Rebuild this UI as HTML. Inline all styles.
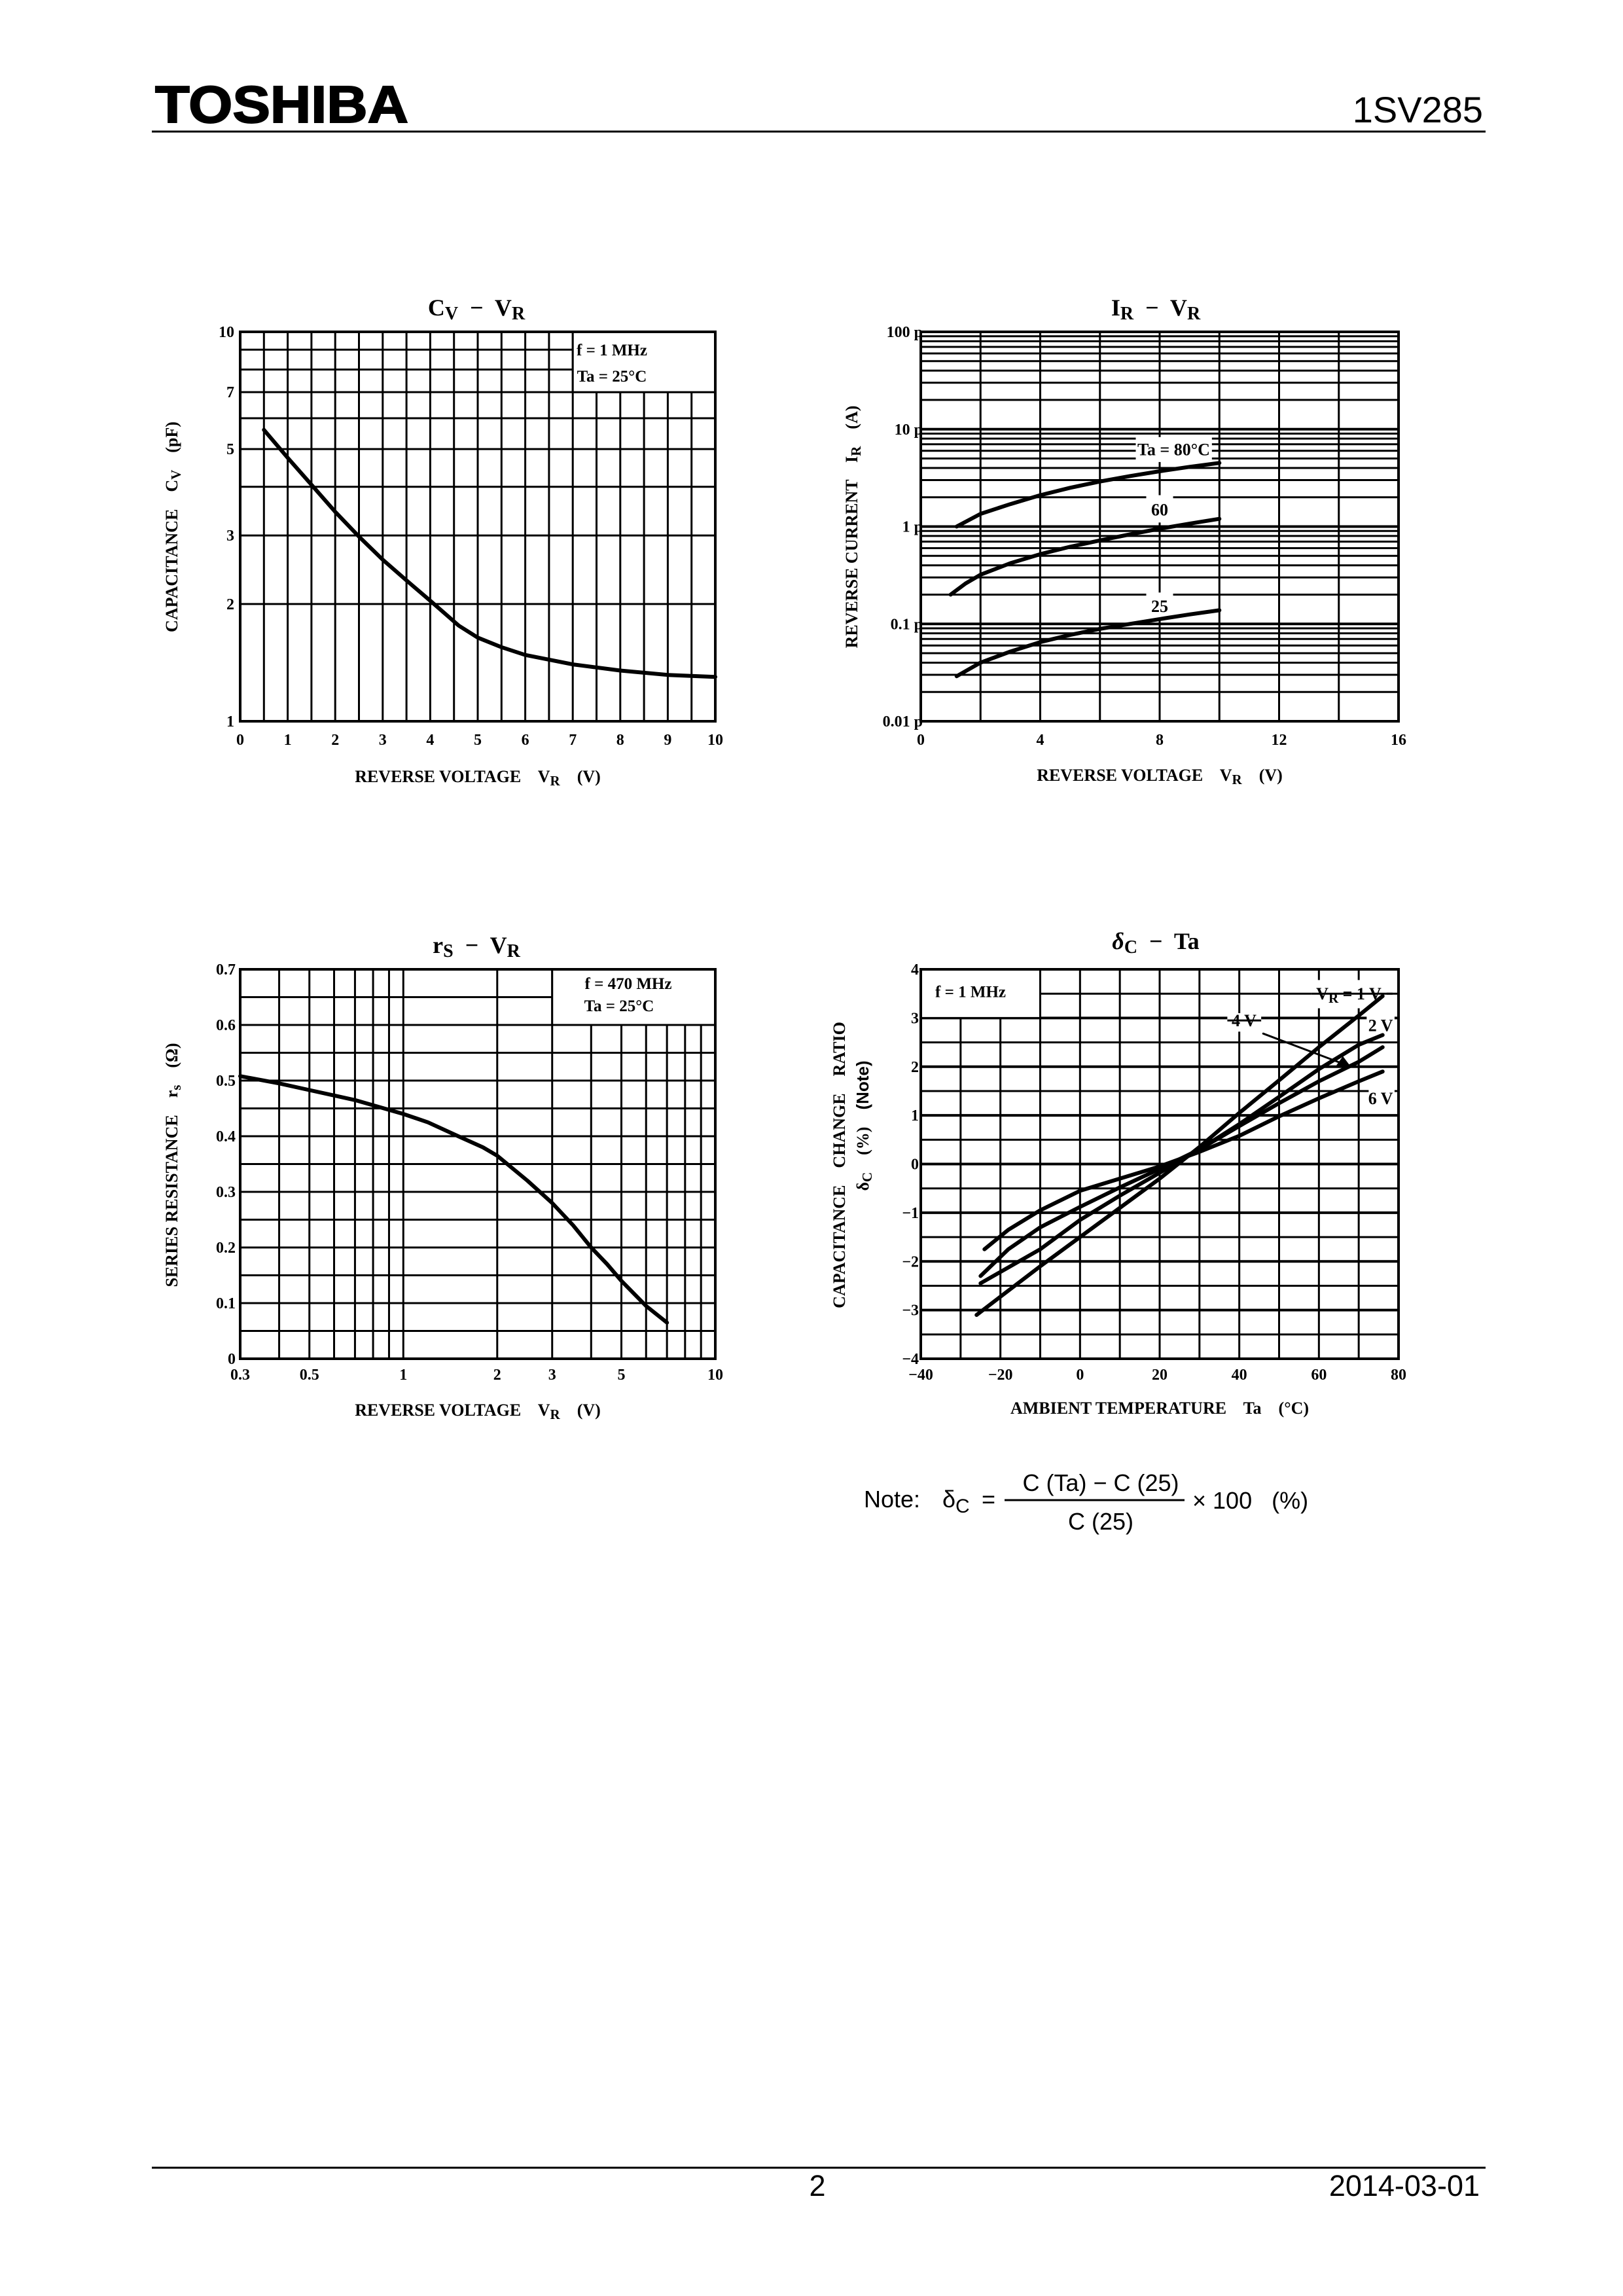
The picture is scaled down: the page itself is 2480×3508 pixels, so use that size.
<!DOCTYPE html>
<html><head><meta charset="utf-8"><style>
html,body{margin:0;padding:0;background:#fff;overflow:hidden;}
svg{display:block;}
text{white-space:pre;}
.s{font-family:"Liberation Serif",serif;font-weight:bold;fill:#000;}
.a{font-family:"Liberation Sans",sans-serif;fill:#000;}
</style></head><body>
<svg id="g" width="2480" height="3508" viewBox="0 0 2480 3508" xmlns="http://www.w3.org/2000/svg" xml:space="preserve">
<rect width="2480" height="3508" fill="#fff"/>
<text x="237" y="187" class="a" font-size="80" font-weight="bold" stroke="#000" stroke-width="2" textLength="387" lengthAdjust="spacingAndGlyphs">TOSHIBA</text>
<text x="2266" y="187" class="a" font-size="56" text-anchor="end">1SV285</text>
<line x1="232" y1="201" x2="2270" y2="201" stroke="#000" stroke-width="3"/>
<line x1="232" y1="3312" x2="2270" y2="3312" stroke="#000" stroke-width="3"/>
<text x="1249" y="3355" class="a" font-size="45" text-anchor="middle">2</text>
<text x="2261" y="3355" class="a" font-size="45" text-anchor="end">2014-03-01</text>
<g id="grid" stroke="#000" stroke-width="3" fill="none"></g>
<g id="over"></g>
<g id="txt">
<text x="728" y="482" class="s" font-size="36" text-anchor="middle">C<tspan font-size="28" dy="6">V</tspan><tspan dy="-6">  −  V</tspan><tspan font-size="28" dy="6">R</tspan></text>
<text x="730" y="1195" class="s" font-size="26" text-anchor="middle">REVERSE VOLTAGE    V<tspan font-size="21" dy="5">R</tspan><tspan dy="-5">    (V)</tspan></text>
<text transform="translate(271,805) rotate(-90)" class="s" font-size="26" text-anchor="middle">CAPACITANCE    C<tspan font-size="21" dy="5">V</tspan><tspan dy="-5">    (pF)</tspan></text>
<text x="935" y="543" class="s" font-size="25" text-anchor="middle">f = 1 MHz</text>
<text x="935" y="583" class="s" font-size="25" text-anchor="middle">Ta = 25°C</text>
<text x="1766" y="482" class="s" font-size="36" text-anchor="middle">I<tspan font-size="28" dy="6">R</tspan><tspan dy="-6">  −  V</tspan><tspan font-size="28" dy="6">R</tspan></text>
<text x="1772" y="1193" class="s" font-size="26" text-anchor="middle">REVERSE VOLTAGE    V<tspan font-size="21" dy="5">R</tspan><tspan dy="-5">    (V)</tspan></text>
<text transform="translate(1310,805) rotate(-90)" class="s" font-size="26" text-anchor="middle">REVERSE CURRENT    I<tspan font-size="21" dy="5">R</tspan><tspan dy="-5">    (A)</tspan></text>
<text x="728" y="1456" class="s" font-size="36" text-anchor="middle">r<tspan font-size="28" dy="6">S</tspan><tspan dy="-6">  −  V</tspan><tspan font-size="28" dy="6">R</tspan></text>
<text x="730" y="2163" class="s" font-size="26" text-anchor="middle">REVERSE VOLTAGE    V<tspan font-size="21" dy="5">R</tspan><tspan dy="-5">    (V)</tspan></text>
<text transform="translate(271,1780) rotate(-90)" class="s" font-size="26" text-anchor="middle">SERIES RESISTANCE    r<tspan font-size="21" dy="5">s</tspan><tspan dy="-5">    (Ω)</tspan></text>
<text x="960" y="1511" class="s" font-size="25" text-anchor="middle">f = 470 MHz</text>
<text x="946" y="1545" class="s" font-size="25" text-anchor="middle">Ta = 25°C</text>
<text x="1766" y="1450" class="s" font-size="36" text-anchor="middle"><tspan font-style="italic">δ</tspan><tspan font-size="28" dy="6">C</tspan><tspan dy="-6">  −  Ta</tspan></text>
<text x="1772" y="2160" class="s" font-size="26" text-anchor="middle">AMBIENT TEMPERATURE    Ta    (°C)</text>
<text transform="translate(1291,1780) rotate(-90)" class="s" font-size="26" text-anchor="middle">CAPACITANCE    CHANGE    RATIO</text>
<text transform="translate(1327,1720) rotate(-90)" class="s" font-size="26" text-anchor="middle">δ<tspan font-size="21" dy="5">C</tspan><tspan dy="-5">    (%)    </tspan><tspan class="a">(Note)</tspan></text>
<text x="1320" y="2303" class="a" font-size="36">Note:</text>
<text x="1440" y="2303" class="a" font-size="36">δ<tspan font-size="30" dy="8">C</tspan></text>
<text x="1500" y="2303" class="a" font-size="36">=</text>
<text x="1682" y="2278" class="a" font-size="36" text-anchor="middle">C (Ta) − C (25)</text>
<line x1="1535" y1="2292" x2="1810" y2="2292" stroke="#000" stroke-width="3"/>
<text x="1682" y="2337" class="a" font-size="36" text-anchor="middle">C (25)</text>
<text x="1822" y="2305" class="a" font-size="36">× 100   (%)</text>
</g>
</svg>
<script>
var NS="http://www.w3.org/2000/svg",G=document.getElementById('grid'),O=document.getElementById('over'),T=document.getElementById('txt');
function el(p,n,a,t){var e=document.createElementNS(NS,n);for(var k in a)e.setAttribute(k,a[k]);if(t!==undefined)e.textContent=t;p.appendChild(e);return e;}
function L(p,x1,y1,x2,y2,w){el(p,'line',{x1:x1,y1:y1,x2:x2,y2:y2,stroke:'#000','stroke-width':w||3});}
function tx(x,y,s,anc,fs){el(T,'text',{x:x,y:y,'class':'s','font-size':fs||24,'text-anchor':anc||'middle'},s);}
function curve(pts,fx,fy,w){var d='';pts.forEach(function(p,i){d+=(i?'L':'M')+fx(p[0]).toFixed(1)+' '+fy(p[1]).toFixed(1);});el(O,'path',{d:d,fill:'none',stroke:'#000','stroke-width':w||6,'stroke-linejoin':'round','stroke-linecap':'round'});}
function wbox(x1,y1,x2,y2,stroke){el(O,'rect',{x:Math.min(x1,x2),y:Math.min(y1,y2),width:Math.abs(x2-x1),height:Math.abs(y2-y1),fill:'#fff',stroke:stroke?'#000':'none','stroke-width':3});}
function frame(x0,y0,x1,y1){el(O,'rect',{x:x0,y:y0,width:x1-x0,height:y1-y0,fill:'none',stroke:'#000','stroke-width':4});}
var lg=Math.log10;
(function(){var x0=367,x1=1093,y0=507,y1=1102;
var fx=function(v){return x0+(x1-x0)*v/10},fy=function(c){return y1-(y1-y0)*lg(c)};
for(var v=0.5;v<10;v+=0.5)L(G,fx(v),y0,fx(v),y1);
for(var c=2;c<10;c++)L(G,x0,fy(c),x1,fy(c));
wbox(fx(7),y0,x1,fy(7),true);
curve([[0.5,5.6],[1,4.75],[1.5,4.05],[2,3.45],[2.5,2.98],[3,2.6],[3.5,2.3],[4,2.04],[4.6,1.76],[5,1.64],[5.5,1.55],[6,1.48],[7,1.4],[8,1.35],[9,1.315],[10,1.3]],fx,fy);
frame(x0,y0,x1,y1);
for(var i=0;i<=10;i++)tx(fx(i),1138,''+i);
[[1,1],[2,2],[3,3],[5,5],[7,7],[10,10]].forEach(function(a){tx(358,fy(a[0])+8,''+a[1],'end');});
})();
(function(){var x0=1407,x1=2137,y0=507,y1=1102;
var fx=function(v){return x0+(x1-x0)*v/16},fy=function(c){return y1-(y1-y0)*(lg(c)+2)/4};
for(var v=2;v<16;v+=2)L(G,fx(v),y0,fx(v),y1);
for(var d=-2;d<2;d++)for(var m=1;m<10;m++){var c=m*Math.pow(10,d);if(d==-2&&m==1)continue;L(G,x0,fy(c),x1,fy(c),m==1?4:3);}
wbox(fx(7.2),fy(8.3),fx(9.75),fy(4.6));
wbox(fx(7.55),fy(2.1),fx(8.45),fy(1.1));
wbox(fx(7.55),fy(0.21),fx(8.45),fy(0.11));
tx(fx(8.47),fy(6.2)+9,'Ta = 80°C','middle',26);
tx(fx(8),fy(1.5)+9,'60','middle',26);
tx(fx(8),fy(0.152)+9,'25','middle',26);
curve([[1.2,1.0],[2,1.35],[3,1.7],[4,2.1],[5,2.5],[6,2.9],[7,3.3],[8,3.7],[9,4.1],[10,4.5]],fx,fy);
curve([[1,0.2],[1.5,0.26],[2,0.32],[3,0.42],[4,0.52],[5,0.62],[6,0.72],[7,0.83],[8,0.95],[9,1.07],[10,1.2]],fx,fy);
curve([[1.2,0.029],[2,0.04],[3,0.052],[4,0.065],[5,0.077],[6,0.089],[7,0.1],[8,0.112],[9,0.125],[10,0.138]],fx,fy);
frame(x0,y0,x1,y1);
[0,4,8,12,16].forEach(function(v){tx(fx(v),1138,''+v);});
[['100 p',100],['10 p',10],['1 p',1],['0.1 p',0.1],['0.01 p',0.01]].forEach(function(a){tx(1410,fy(a[1])+8,a[0],'end');});
})();
(function(){var x0=367,x1=1093,y0=1481,y1=2076,a=lg(0.3),b=1;
var fx=function(v){return x0+(x1-x0)*(lg(v)-a)/(b-a)},fy=function(r){return y1-(y1-y0)*r/0.7};
[0.4,0.5,0.6,0.7,0.8,0.9,1,2,3,4,5,6,7,8,9].forEach(function(v){L(G,fx(v),y0,fx(v),y1);});
for(var i=1;i<14;i++)L(G,x0,fy(i*0.05),x1,fy(i*0.05));
wbox(fx(3),y0,x1,fy(0.6),true);
curve([[0.3,0.508],[0.4,0.495],[0.5,0.483],[0.7,0.465],[1,0.44],[1.2,0.425],[1.5,0.4],[1.8,0.38],[2,0.365],[2.5,0.32],[3,0.28],[3.5,0.24],[4,0.2],[4.5,0.17],[5,0.14],[6,0.095],[7,0.065]],fx,fy);
frame(x0,y0,x1,y1);
[['0.3',0.3],['0.5',0.5],['1',1],['2',2],['3',3],['5',5],['10',10]].forEach(function(p){tx(fx(p[1]),2108,p[0]);});
for(var i=0;i<=7;i++)tx(360,fy(i/10)+8,i?('0.'+i):'0','end');
})();
(function(){var x0=1407,x1=2137,y0=1481,y1=2076;
var fx=function(t){return x0+(x1-x0)*(t+40)/120},fy=function(d){return y1-(y1-y0)*(d+4)/8};
for(var t=-30;t<80;t+=10)L(G,fx(t),y0,fx(t),y1);
for(var d=-3.5;d<4;d+=0.5)L(G,x0,fy(d),x1,fy(d),Math.abs(d%1)<0.01?4:3);
wbox(x0,y0,fx(-10),fy(3),true);
wbox(fx(58),fy(3.78),fx(77),fy(3.2));
wbox(fx(37),fy(3.1),fx(45.5),fy(2.72));
wbox(fx(72),fy(3.05),fx(79),fy(2.6));
wbox(fx(72.5),fy(1.55),fx(79),fy(1.1));
L(O,fx(58),fy(3.5),fx(78.5),fy(3.5),3);
L(O,fx(45.5),fy(2.95),fx(37),fy(2.95),3);
curve([[-26,-3.1],[-10,-2.1],[0,-1.5],[10,-0.9],[20,-0.3],[30,0.35],[40,1.05],[50,1.72],[60,2.4],[70,3.05],[76,3.45]],fx,fy);
curve([[-25,-2.3],[-18,-1.75],[-10,-1.3],[0,-0.88],[10,-0.48],[20,-0.1],[30,0.3],[40,0.82],[50,1.38],[60,1.95],[70,2.45],[76,2.65]],fx,fy);
curve([[-25,-2.45],[-10,-1.75],[0,-1.15],[10,-0.65],[20,-0.18],[30,0.3],[40,0.78],[50,1.25],[60,1.7],[70,2.1],[76,2.4]],fx,fy);
curve([[-24,-1.75],[-18,-1.35],[-10,-0.95],[0,-0.55],[10,-0.3],[20,-0.05],[30,0.25],[40,0.58],[50,0.98],[60,1.35],[70,1.7],[76,1.9]],fx,fy);
curve([[46,2.68],[68,2.0]],fx,fy,3);
el(O,'path',{d:'M'+fx(68)+' '+fy(2.0)+' l-22 -2 l10 -14 z',fill:'#000'});
frame(x0,y0,x1,y1);
tx(fx(-27.5),fy(3.55)+9,'f = 1 MHz','middle',25);
el(T,'text',{x:fx(67.5),y:fy(3.5)+9,'class':'s','font-size':26,'text-anchor':'middle'}).innerHTML='V<tspan font-size="21" dy="5">R</tspan><tspan dy="-5"> = 1 V</tspan>';
tx(fx(41.2),fy(2.95)+9,'4 V','middle',26);
tx(fx(75.5),fy(2.85)+9,'2 V','middle',26);
tx(fx(75.5),fy(1.35)+9,'6 V','middle',26);
for(var t=-40;t<=80;t+=20)tx(fx(t),2108,t<0?('−'+(-t)):''+t);
for(var d=-4;d<=4;d++)tx(1404,fy(d)+8,d<0?('−'+(-d)):''+d,'end');
})();
</script>
</body></html>
